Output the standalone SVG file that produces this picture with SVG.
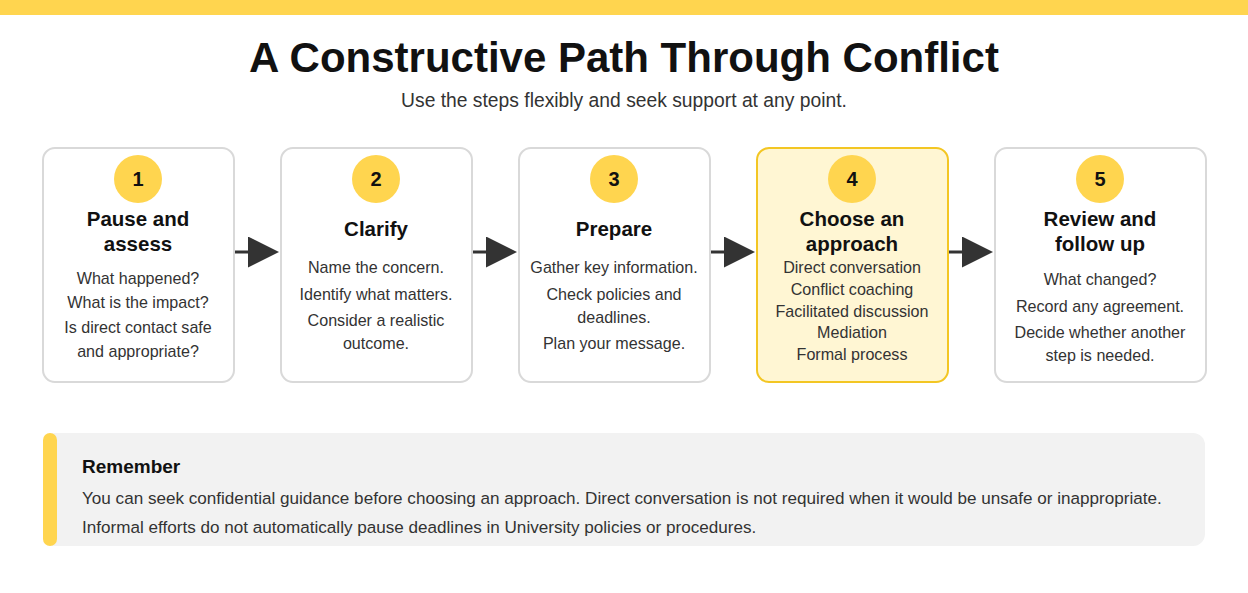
<svg xmlns="http://www.w3.org/2000/svg" width="1248" height="593" viewBox="0 0 1248 593">
<defs>
<style>
text{font-family:"Liberation Sans",Arial,Helvetica,sans-serif;}
.title{font-size:42px;font-weight:bold;fill:#111;text-anchor:middle;}
.sub{font-size:19.3px;fill:#333;text-anchor:middle;}
.card{fill:#fff;stroke:#d9d9d9;stroke-width:2;}
.card.hl{fill:#fff6d3;stroke:#f3c623;}
.num{fill:#ffd54f;}
.numt{font-size:20px;font-weight:bold;fill:#111;text-anchor:middle;}
.h{font-size:20.5px;font-weight:bold;fill:#111;text-anchor:middle;}
.b{font-size:16.1px;fill:#333;text-anchor:middle;}
.conn{stroke:#333;stroke-width:3;fill:none;}
.rh{font-size:19px;font-weight:bold;fill:#111;}
.rb{font-size:17.1px;fill:#333;}
</style>
<marker id="ah" markerUnits="userSpaceOnUse" markerWidth="32" markerHeight="32" refX="0" refY="15.5" orient="auto">
<path d="M0,0 L31,15.5 L0,31 Z" fill="#333"/>
</marker>
</defs>
<rect x="0" y="0" width="1248" height="15" fill="#ffd54f"/>
<text class="title" x="624" y="72">A Constructive Path Through Conflict</text>
<text class="sub" x="624" y="107">Use the steps flexibly and seek support at any point.</text>

<g id="connectors">
<path class="conn" d="M234,252 H248" marker-end="url(#ah)"/>
<path class="conn" d="M472,252 H486" marker-end="url(#ah)"/>
<path class="conn" d="M710,252 H724" marker-end="url(#ah)"/>
<path class="conn" d="M948,252 H962" marker-end="url(#ah)"/>
</g>

<g id="node1">
<rect class="card" x="43" y="148" width="191" height="234" rx="12"/>
<circle class="num" cx="138" cy="179" r="24"/>
<text class="numt" x="138" y="186">1</text>
<text class="h" x="138" y="226">Pause and</text>
<text class="h" x="138" y="251">assess</text>
<text class="b" x="138" y="284">What happened?</text>
<text class="b" x="138" y="308">What is the impact?</text>
<text class="b" x="138" y="333">Is direct contact safe</text>
<text class="b" x="138" y="357">and appropriate?</text>
</g>

<g id="node2">
<rect class="card" x="281" y="148" width="191" height="234" rx="12"/>
<circle class="num" cx="376" cy="179" r="24"/>
<text class="numt" x="376" y="186">2</text>
<text class="h" x="376" y="236">Clarify</text>
<text class="b" x="376" y="273">Name the concern.</text>
<text class="b" x="376" y="300">Identify what matters.</text>
<text class="b" x="376" y="326">Consider a realistic</text>
<text class="b" x="376" y="349">outcome.</text>
</g>

<g id="node3">
<rect class="card" x="519" y="148" width="191" height="234" rx="12"/>
<circle class="num" cx="614" cy="179" r="24"/>
<text class="numt" x="614" y="186">3</text>
<text class="h" x="614" y="236">Prepare</text>
<text class="b" x="614" y="273">Gather key information.</text>
<text class="b" x="614" y="300">Check policies and</text>
<text class="b" x="614" y="323">deadlines.</text>
<text class="b" x="614" y="349">Plan your message.</text>
</g>

<g id="node4">
<rect class="card hl" x="757" y="148" width="191" height="234" rx="12"/>
<circle class="num" cx="852" cy="179" r="24"/>
<text class="numt" x="852" y="186">4</text>
<text class="h" x="852" y="226">Choose an</text>
<text class="h" x="852" y="251">approach</text>
<text class="b" x="852" y="273">Direct conversation</text>
<text class="b" x="852" y="295">Conflict coaching</text>
<text class="b" x="852" y="317">Facilitated discussion</text>
<text class="b" x="852" y="338">Mediation</text>
<text class="b" x="852" y="360">Formal process</text>
</g>

<g id="node5">
<rect class="card" x="995" y="148" width="211" height="234" rx="12"/>
<circle class="num" cx="1100" cy="179" r="24"/>
<text class="numt" x="1100" y="186">5</text>
<text class="h" x="1100" y="226">Review and</text>
<text class="h" x="1100" y="251">follow up</text>
<text class="b" x="1100" y="285">What changed?</text>
<text class="b" x="1100" y="312">Record any agreement.</text>
<text class="b" x="1100" y="338">Decide whether another</text>
<text class="b" x="1100" y="361">step is needed.</text>
</g>

<g id="remember">
<rect x="43" y="433" width="1162" height="113" rx="12" fill="#f2f2f2"/>
<rect x="43" y="433" width="14" height="113" rx="7" fill="#ffd54f"/>
<text class="rh" x="82" y="473">Remember</text>
<text class="rb" x="82" y="504">You can seek confidential guidance before choosing an approach. Direct conversation is not required when it would be unsafe or inappropriate.</text>
<text class="rb" x="82" y="533">Informal efforts do not automatically pause deadlines in University policies or procedures.</text>
</g>
</svg>
